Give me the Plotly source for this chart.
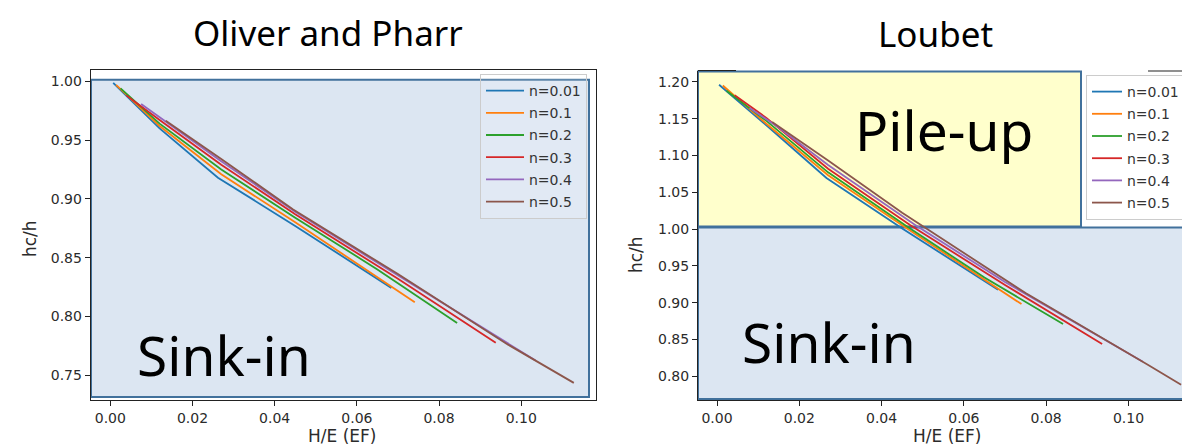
import plotly.graph_objects as go

W, H = 1190, 446

series_labels = ["n=0.01", "n=0.1", "n=0.2", "n=0.3", "n=0.4", "n=0.5"]
series_colors = ["#1f77b4", "#ff7f0e", "#2ca02c", "#d62728", "#9467bd", "#8c564b"]

x_tickvals = [0.00, 0.02, 0.04, 0.06, 0.08, 0.10]
x_ticktext = ["0.00", "0.02", "0.04", "0.06", "0.08", "0.10"]
op_y_tickvals = [0.75, 0.80, 0.85, 0.90, 0.95, 1.00]
op_y_ticktext = ["0.75", "0.80", "0.85", "0.90", "0.95", "1.00"]
lb_y_tickvals = [0.80, 0.85, 0.90, 0.95, 1.00, 1.05, 1.10, 1.15, 1.20]
lb_y_ticktext = ["0.80", "0.85", "0.90", "0.95", "1.00", "1.05", "1.10", "1.15", "1.20"]

# ---- Oliver and Pharr: H/E (x) vs hc/h (y) ----
op_x_n001 = [0.0007, 0.012, 0.0262, 0.045, 0.0684]
op_y_n001 = [0.9986, 0.960, 0.918, 0.877, 0.8242]
op_x_n01 = [0.0014, 0.012, 0.027, 0.045, 0.0741]
op_y_n01 = [0.997, 0.962, 0.921, 0.880, 0.8121]
op_x_n02 = [0.0025, 0.012, 0.027, 0.045, 0.065, 0.0844]
op_y_n02 = [0.994, 0.964, 0.925, 0.884, 0.840, 0.7945]
op_x_n03 = [0.0039, 0.012, 0.027, 0.045, 0.070, 0.0938]
op_y_n03 = [0.988, 0.967, 0.929, 0.887, 0.832, 0.7775]
op_x_n04 = [0.0075, 0.015, 0.027, 0.045, 0.070, 0.1035]
op_y_n04 = [0.9807, 0.962, 0.932, 0.889, 0.835, 0.7625]
op_x_n05 = [0.0135, 0.027, 0.0445, 0.070, 0.0968, 0.1128]
op_y_n05 = [0.9665, 0.934, 0.891, 0.836, 0.776, 0.7435]

# ---- Loubet: H/E (x) vs hc/h (y) ----
lb_x_n001 = [0.0005, 0.012, 0.0266, 0.0452, 0.0683]
lb_y_n001 = [1.196, 1.141, 1.0693, 1.000, 0.9175]
lb_x_n01 = [0.0014, 0.012, 0.027, 0.045, 0.0740]
lb_y_n01 = [1.195, 1.143, 1.073, 1.005, 0.898]
lb_x_n02 = [0.0023, 0.012, 0.027, 0.046, 0.065, 0.0841]
lb_y_n02 = [1.188, 1.147, 1.077, 1.004, 0.934, 0.871]
lb_x_n03 = [0.0043, 0.012, 0.027, 0.047, 0.070, 0.0936]
lb_y_n03 = [1.1817, 1.151, 1.082, 1.005, 0.924, 0.8438]
lb_x_n04 = [0.0079, 0.015, 0.027, 0.048, 0.070, 0.1035]
lb_y_n04 = [1.1644, 1.138, 1.087, 1.006, 0.928, 0.8196]
lb_x_n05 = [0.0134, 0.027, 0.045, 0.075, 0.1047, 0.1128]
lb_y_n05 = [1.1454, 1.093, 1.022, 0.913, 0.8156, 0.7885]

op_series = [(op_x_n001, op_y_n001), (op_x_n01, op_y_n01), (op_x_n02, op_y_n02),
             (op_x_n03, op_y_n03), (op_x_n04, op_y_n04), (op_x_n05, op_y_n05)]
lb_series = [(lb_x_n001, lb_y_n001), (lb_x_n01, lb_y_n01), (lb_x_n02, lb_y_n02),
             (lb_x_n03, lb_y_n03), (lb_x_n04, lb_y_n04), (lb_x_n05, lb_y_n05)]


def px(x):
    return x / W


def py(y):
    return (H - y) / H


fig = go.Figure()

for i, (xs, ys) in enumerate(op_series):
    fig.add_trace(go.Scatter(x=xs, y=ys, mode="lines", name=series_labels[i],
                             line=dict(color=series_colors[i], width=1.8),
                             xaxis="x", yaxis="y", legend="legend",
                             legendgroup="op%d" % i))
for i, (xs, ys) in enumerate(lb_series):
    fig.add_trace(go.Scatter(x=xs, y=ys, mode="lines", name=series_labels[i],
                             line=dict(color=series_colors[i], width=1.8),
                             xaxis="x2", yaxis="y2", legend="legend2",
                             legendgroup="lb%d" % i))

tickfont = dict(family="DejaVu Sans", size=14, color="#2b2b2b")
axis_common = dict(showgrid=False, zeroline=False, ticks="outside", ticklen=5,
                   tickcolor="#222", tickwidth=1, showline=True, linecolor="#222",
                   linewidth=1, tickfont=tickfont)

BLUE_FILL = "#dce6f2"
YELLOW_FILL = "#ffffcc"
BORDER = "#41719c"

shapes = [
    # left: sink-in box
    dict(type="rect", xref="paper", yref="paper", x0=px(83), x1=px(581), y0=py(389), y1=py(71.7),
         fillcolor=BLUE_FILL, line=dict(color=BORDER, width=2), layer="below"),
    # right: pile-up box
    dict(type="rect", xref="paper", yref="paper", x0=px(690), x1=px(1073), y0=py(218.5), y1=py(63.5),
         fillcolor=YELLOW_FILL, line=dict(color=BORDER, width=2), layer="below"),
    # right: sink-in box
    dict(type="rect", xref="paper", yref="paper", x0=px(690), x1=px(1189), y0=py(391), y1=py(219.5),
         fillcolor=BLUE_FILL, line=dict(color=BORDER, width=2), layer="below"),
    # bits of the right axes top frame
    dict(type="line", xref="paper", yref="paper", x0=px(690), x1=px(728), y0=py(62.5), y1=py(62.5),
         line=dict(color="#222", width=1.2)),
    dict(type="line", xref="paper", yref="paper", x0=px(1140), x1=px(1190), y0=py(63), y1=py(63),
         line=dict(color="#222", width=1.2)),
]

big_font = dict(family="Noto Sans", size=55, color="black")
title_font = dict(family="Noto Sans", size=35, color="black")
label_font = dict(family="DejaVu Sans", size=17, color="#2b2b2b")

annotations = [
    dict(text="Oliver and Pharr", x=px(320), y=py(24), xref="paper", yref="paper",
         showarrow=False, font=title_font, xanchor="center", yanchor="middle"),
    dict(text="Loubet", x=px(927), y=py(26), xref="paper", yref="paper",
         showarrow=False, font=title_font, xanchor="center", yanchor="middle"),
    dict(text="Sink-in", x=px(215.5), y=py(346), xref="paper", yref="paper",
         showarrow=False, font=big_font, xanchor="center", yanchor="middle"),
    dict(text="Sink-in", x=px(821), y=py(333.5), xref="paper", yref="paper",
         showarrow=False, font=big_font, xanchor="center", yanchor="middle"),
    dict(text="Pile-up", x=px(936), y=py(121.5), xref="paper", yref="paper",
         showarrow=False, font=big_font, xanchor="center", yanchor="middle"),
    dict(text="H/E (EF)", x=px(334), y=py(428), xref="paper", yref="paper",
         showarrow=False, font=label_font, xanchor="center", yanchor="middle"),
    dict(text="H/E (EF)", x=px(939), y=py(428), xref="paper", yref="paper",
         showarrow=False, font=label_font, xanchor="center", yanchor="middle"),
    dict(text="hc/h", x=px(22), y=py(231), xref="paper", yref="paper", textangle=-90,
         showarrow=False, font=label_font, xanchor="center", yanchor="middle"),
    dict(text="hc/h", x=px(628), y=py(247), xref="paper", yref="paper", textangle=-90,
         showarrow=False, font=label_font, xanchor="center", yanchor="middle"),
]

legend_common = dict(xanchor="left", yanchor="top", bordercolor="#cccccc", borderwidth=1,
                     font=dict(family="DejaVu Sans", size=14, color="#333333"),
                     tracegroupgap=1, orientation="v")

fig.update_layout(
    width=W, height=H, autosize=False,
    margin=dict(l=0, r=0, t=0, b=0),
    paper_bgcolor="white", plot_bgcolor="rgba(0,0,0,0)",
    showlegend=True,
    xaxis=dict(domain=[px(82.7), px(588)], range=[-0.00477, 0.1182], anchor="y",
               tickvals=x_tickvals, ticktext=x_ticktext, mirror=True, **axis_common),
    yaxis=dict(domain=[py(392), py(61.7)], range=[0.72891, 1.00986], anchor="x",
               tickvals=op_y_tickvals, ticktext=op_y_ticktext, mirror=True, **axis_common),
    xaxis2=dict(domain=[px(690), 1.0], range=[-0.00462, 0.1169], anchor="y2",
                tickvals=x_tickvals, ticktext=x_ticktext, mirror=False, **axis_common),
    yaxis2=dict(domain=[py(391.7), py(62.5)], range=[0.7681, 1.2154], anchor="x2",
                tickvals=lb_y_tickvals, ticktext=lb_y_ticktext, mirror=False, **axis_common),
    legend=dict(x=px(472), y=py(66), bgcolor="rgba(255,255,255,0.15)", itemwidth=38,
                **legend_common),
    legend2=dict(x=px(1078), y=py(67), bgcolor="white", itemwidth=30, **legend_common),
    shapes=shapes,
    annotations=annotations,
)

fig.write_html("out.html")
